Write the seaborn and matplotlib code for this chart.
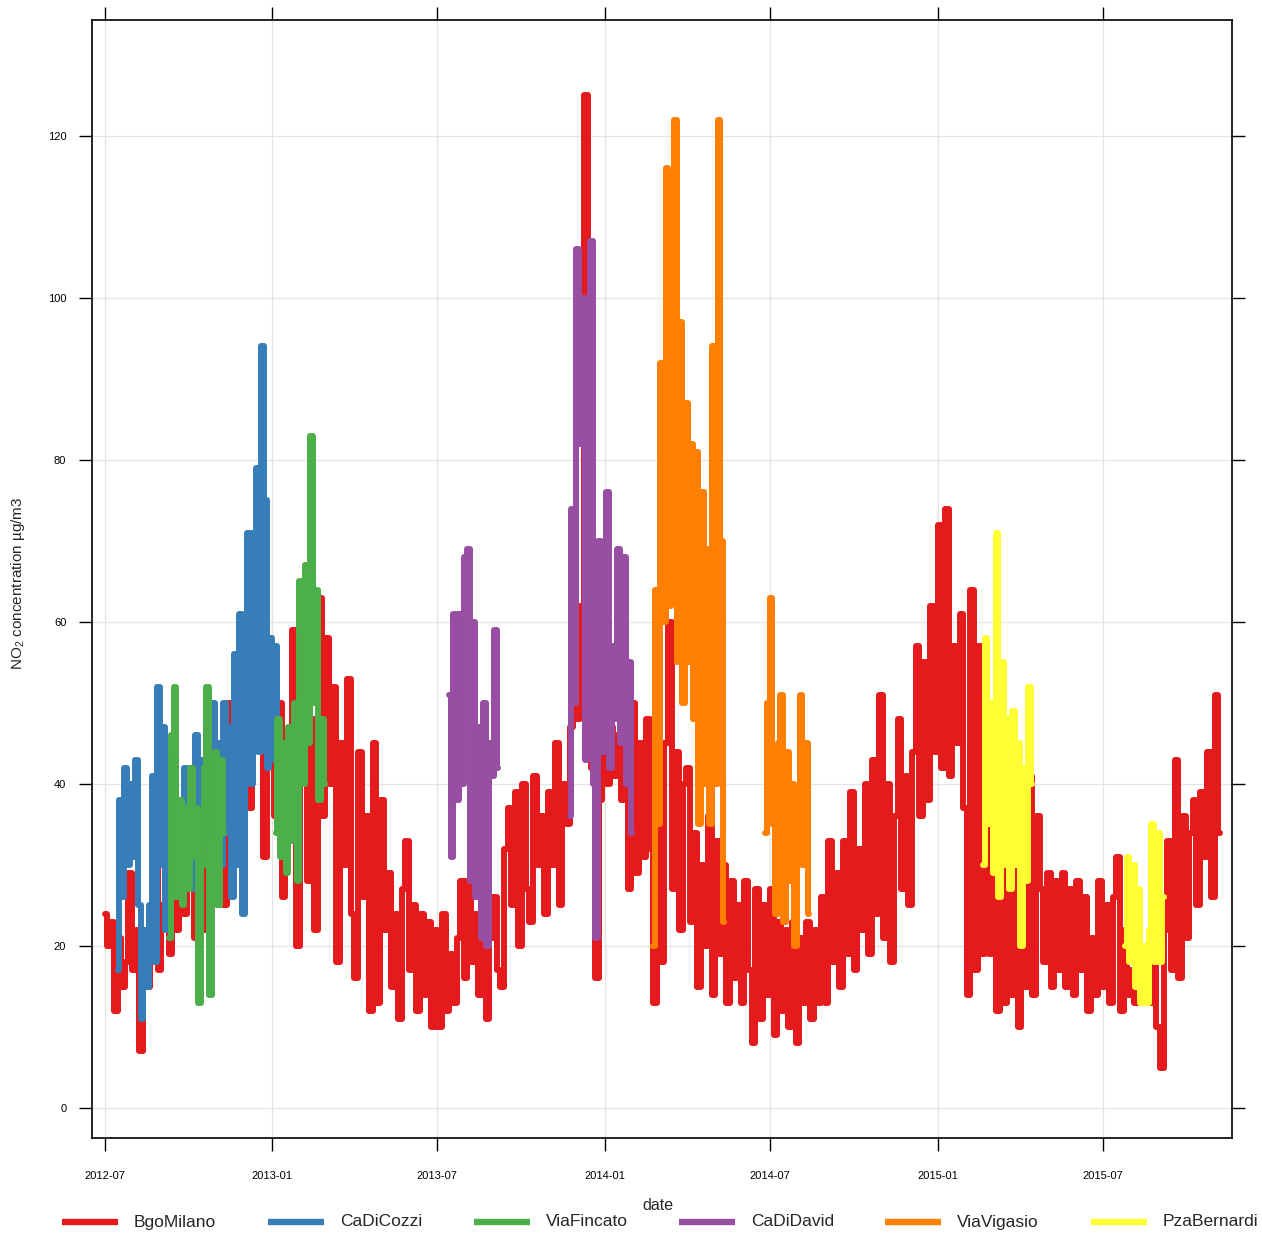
import numpy as np
import pandas as pd
import matplotlib
matplotlib.use("Agg")
import matplotlib.pyplot as plt
import matplotlib.dates as mdates
from matplotlib.lines import Line2D
import seaborn as sns

# ---- NO2 daily concentrations (µg/m3) per monitoring site ----
stations = ["BgoMilano", "CaDiCozzi", "ViaFincato", "CaDiDavid", "ViaVigasio", "PzaBernardi"]

# fixed station, sampled every 4 days
bgomilano_start = "2012-07-01"
bgomilano = [
    24, 20, 23, 12, 21, 15, 18, 29,
    17, 22, 7, 20, 15, 23, 30, 17,
    25, 34, 19, 28, 22, 30, 24,
    27, 40, 21, 33, 22, 36, 26, 41,
    28, 44, 25, 50, 33, 46, 30,
    40, 60, 37, 55, 71, 45, 31, 52,
    44, 36, 50, 26, 45, 38, 59, 20,
    40, 57, 28, 48, 22, 63, 36,
    58, 40, 52, 18, 45, 30, 53, 24,
    16, 44, 26, 36, 12, 45, 13,
    38, 22, 29, 15, 24, 11, 27, 33,
    17, 25, 12, 24, 14, 23, 10,
    22, 10, 24, 12, 19, 13, 21, 28,
    16, 28, 18, 24, 14, 22, 11, 21,
    26, 17, 15, 32, 37, 25, 39,
    20, 40, 27, 23, 41, 30, 36, 24,
    39, 30, 45, 25, 40, 35, 47, 52,
    48, 62, 125, 50, 42, 16, 38, 47,
    40, 47, 41, 46, 38, 44, 27,
    50, 29, 45, 31, 48, 32, 13,
    36, 18, 45, 60, 27, 44, 22, 40,
    42, 23, 34, 15, 30, 20, 36,
    14, 33, 19, 30, 13, 28, 16, 25,
    13, 28, 17, 8, 27, 11, 25, 14,
    27, 9, 23, 12, 22, 10, 23,
    8, 21, 13, 23, 11, 22, 13, 26,
    13, 33, 18, 29, 15, 33, 19,
    39, 17, 32, 22, 40, 19, 43, 24,
    51, 21, 40, 18, 36, 48, 27, 41,
    25, 44, 57, 36, 55, 38, 62, 44,
    72, 42, 74, 41, 57, 45, 61,
    37, 14, 64, 17, 57, 19, 45,
    19, 40, 12, 30, 13, 28, 14, 35,
    10, 36, 15, 41, 14, 36, 27,
    18, 29, 15, 28, 17, 29, 15, 27,
    14, 28, 17, 26, 12, 21, 14, 28,
    15, 25, 13, 26, 31, 12, 22, 14,
    17, 13, 19, 14, 20, 13, 22, 10,
    5, 22, 33, 17, 43, 16, 36,
    21, 34, 38, 25, 39, 31, 44, 26,
    51, 34,
]

# mobile campaigns, sampled every 3 days
cadicozzi_start = "2012-07-15"
cadicozzi = [
    17, 38, 26, 42, 30, 40, 31, 43, 25, 11,
    22, 15, 25, 41, 18, 52, 30, 47, 22, 44,
    28, 40, 26, 37, 29, 42, 31, 38, 27, 46,
    33, 43, 30, 48, 35, 50, 32, 45, 30, 50,
    34, 47, 26, 56, 30, 61, 24, 50, 71, 40,
    71, 79, 44, 94, 75, 42, 58, 43, 57, 45,
]

viafincato_autumn_start = "2012-09-10"
viafincato_autumn = [21, 46, 52, 26, 38, 25, 37, 27, 42, 31, 37,
                     13, 30, 42, 52, 14, 33, 44, 25, 43, 34]
viafincato_winter_start = "2013-01-05"
viafincato_winter = [34, 48, 31, 45, 29, 47, 33, 50, 28, 65,
                     40, 67, 45, 83, 50, 64, 38, 48, 40]

cadidavid_summer_start = "2013-07-14"
cadidavid_summer = [51, 31, 61, 38, 61, 40, 68, 69, 28, 60,
                    26, 47, 21, 50, 20, 45, 41, 59, 42]
cadidavid_winter_start = "2013-11-23"
cadidavid_winter = [36, 74, 50, 106, 82, 100, 43, 60, 107, 40,
                    21, 70, 44, 62, 76, 42, 57, 48, 69, 45,
                    68, 40, 55, 34]

viavigasio_spring_start = "2014-02-23"
viavigasio_spring = [20, 64, 35, 92, 60, 116, 62, 108, 122, 55,
                     97, 50, 87, 55, 82, 48, 81, 35, 76, 40,
                     69, 35, 94, 40, 122, 70, 23]
viavigasio_summer_start = "2014-06-26"
viavigasio_summer = [34, 50, 63, 35, 24, 45, 51, 23, 44, 28,
                     40, 20, 35, 51, 30, 45, 24]

pzabernardi_winter_start = "2015-02-20"
pzabernardi_winter = [30, 58, 35, 50, 29, 71, 26, 55, 30, 48,
                      27, 49, 30, 45, 20, 42, 28, 52, 40]
pzabernardi_summer_start = "2015-07-26"
pzabernardi_summer = [20, 31, 18, 30, 15, 27, 13, 20, 13, 22,
                      35, 18, 34, 18, 26]

# ---- long table: one row per observation, one unit per campaign segment ----
segments = [
    ("BgoMilano", bgomilano_start, "4D", bgomilano),
    ("CaDiCozzi", cadicozzi_start, "3D", cadicozzi),
    ("ViaFincato", viafincato_autumn_start, "3D", viafincato_autumn),
    ("ViaFincato", viafincato_winter_start, "3D", viafincato_winter),
    ("CaDiDavid", cadidavid_summer_start, "3D", cadidavid_summer),
    ("CaDiDavid", cadidavid_winter_start, "3D", cadidavid_winter),
    ("ViaVigasio", viavigasio_spring_start, "3D", viavigasio_spring),
    ("ViaVigasio", viavigasio_summer_start, "3D", viavigasio_summer),
    ("PzaBernardi", pzabernardi_winter_start, "3D", pzabernardi_winter),
    ("PzaBernardi", pzabernardi_summer_start, "3D", pzabernardi_summer),
]
frames = []
for i, (site, start, freq, vals) in enumerate(segments):
    frames.append(pd.DataFrame({
        "date": pd.date_range(start, periods=len(vals), freq=freq),
        "no2": vals,
        "site": site,
        "segment": i,
    }))
df = pd.concat(frames, ignore_index=True)

# ---- style ----
sns.set_style("white")
plt.rcParams["font.family"] = ["Liberation Sans", "DejaVu Sans"]
plt.rcParams["mathtext.fontset"] = "custom"
plt.rcParams["mathtext.rm"] = "Liberation Sans"
plt.rcParams["mathtext.it"] = "Liberation Sans"
plt.rcParams["mathtext.default"] = "regular"

palette = dict(zip(stations, sns.color_palette("Set1", 6)))

W, H = 1262, 1234
fig = plt.figure(figsize=(W / 100, H / 100), dpi=100)
ax = fig.add_axes([92 / W, 1 - 1138 / H, (1232 - 92) / W, (1138 - 20) / H])

sns.lineplot(data=df, x="date", y="no2", hue="site", hue_order=stations,
             palette=palette, units="segment", estimator=None, sort=False,
             legend=False, linewidth=4.3, drawstyle="steps-mid", ax=ax)

# ---- axes ----
ax.set_xlim(pd.Timestamp("2012-06-17"), pd.Timestamp("2015-11-20"))
ax.set_ylim(-3.7, 134.3)
ax.set_yticks([0, 20, 40, 60, 80, 100, 120])
ax.xaxis.set_major_locator(mdates.MonthLocator(bymonth=[1, 7]))
ax.xaxis.set_major_formatter(mdates.DateFormatter("%Y-%m"))
ax.set_xlabel("")
ax.set_ylabel("")
ax.grid(True, color="#e4e4e4", linewidth=0.9)
ax.set_axisbelow(True)
for sp in ax.spines.values():
    sp.set_color("black")
    sp.set_linewidth(1.2)
ax.tick_params(axis="both", which="major", direction="out", length=9.5,
               width=1.0, colors="black", bottom=True, left=True,
               top=True, right=True, labelbottom=True, labelleft=True,
               labeltop=False, labelright=False, labelsize=8)
ax.tick_params(axis="x", pad=14)
ax.tick_params(axis="y", pad=9)

# axis titles
fig.text(658 / W, 1 - 1205 / H, "date", ha="center", va="center", fontsize=11.5)
fig.text(18 / W, 1 - 583 / H, "NO$_2$ concentration µg/m3", ha="center",
         va="center", rotation=90, fontsize=11)

# ---- key below the panel ----
key_y = 1 - 1222 / H
for i, name in enumerate(stations):
    x0 = 62 + 205.8 * i
    fig.add_artist(Line2D([x0 / W, (x0 + 56) / W], [key_y, key_y],
                          transform=fig.transFigure, color=palette[name],
                          linewidth=4.6, solid_capstyle="butt"))
    fig.text((x0 + 72) / W, key_y, name, ha="left", va="center", fontsize=12.5)

fig.savefig("out.png", dpi=100)
